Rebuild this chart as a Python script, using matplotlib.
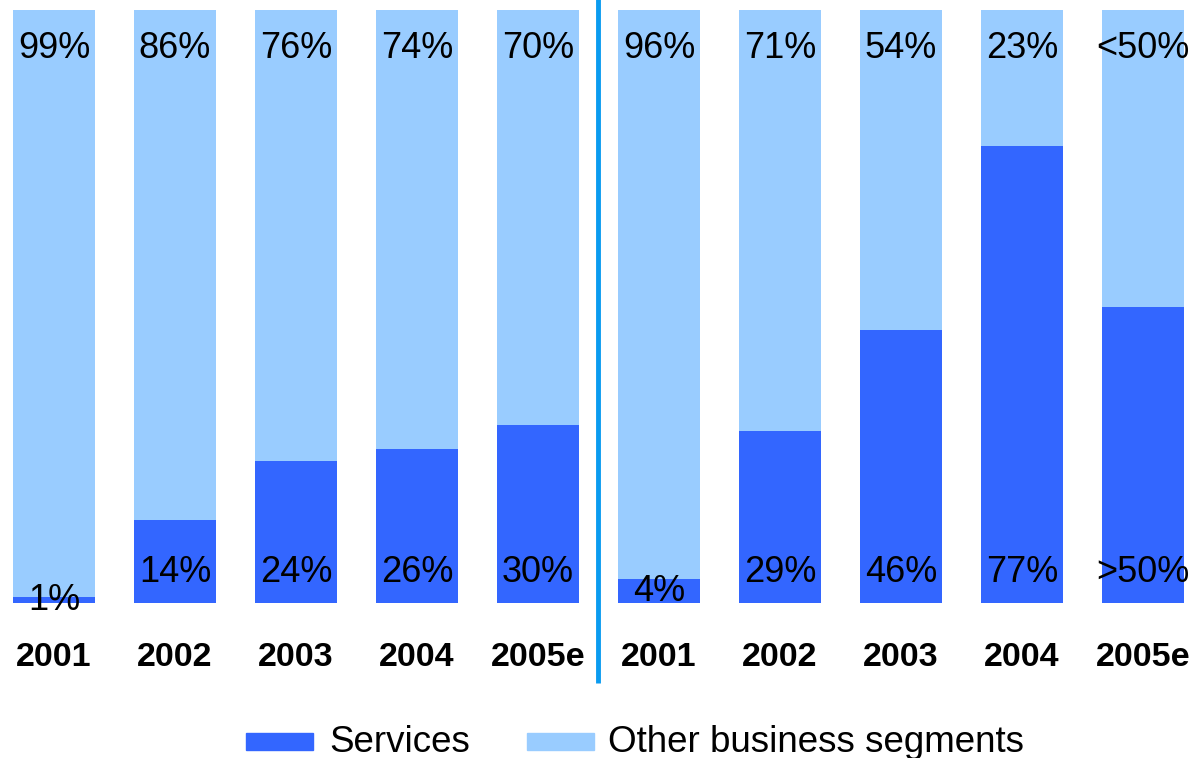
import matplotlib
matplotlib.use('Agg')
from matplotlib import pyplot as plt
from matplotlib.patches import Rectangle
import numpy as np

plt.rcParams['font.family'] = ['Liberation Sans', 'DejaVu Sans']

years = ['2001', '2002', '2003', '2004', '2005e',
         '2001', '2002', '2003', '2004', '2005e']
services = [1, 14, 24, 26, 30, 4, 29, 46, 77, 50]
services_labels = ['1%', '14%', '24%', '26%', '30%',
                   '4%', '29%', '46%', '77%', '>50%']
other_labels = ['99%', '86%', '76%', '74%', '70%',
                '96%', '71%', '54%', '23%', '<50%']
legend_names = ['Services', 'Other business segments']

dark = '#3366FF'
light = '#99CCFF'

W, H = 1198, 758
fig = plt.figure(figsize=(W / 100, H / 100), dpi=100)
ax = fig.add_axes([0, 0, 1, 1])

# pixel geometry -> data limits
x0_px, step_px = 54, 121
bot_px, top_px = 603, 10
unit = bot_px - top_px
ax.set_xlim(-x0_px / step_px, (W - x0_px) / step_px)
ax.set_ylim(-(H - bot_px) / unit, 1 + top_px / unit)
ax.axis('off')

x = np.arange(len(years))
s = np.array(services) / 100.0
ax.bar(x, s, width=0.67, color=dark, linewidth=0)
ax.bar(x, 1 - s, bottom=s, width=0.67, color=light, linewidth=0)

def py(p):
    return (bot_px - p) / unit

for i in range(len(years)):
    ax.text(x[i], py(48), other_labels[i], ha='center', va='center', fontsize=26)
    yb = min(s[i] / 2, py(573))
    ax.text(x[i], yb, services_labels[i], ha='center', va='center', fontsize=26)
    ax.text(x[i], py(658), years[i], ha='center', va='center', fontsize=24.5,
            fontweight='bold')

ax.plot([4.5, 4.5], [py(683), py(-5)], color='#0A9BF0', linewidth=3.5,
        solid_capstyle='butt', clip_on=False)

# legend
def fx(p):
    return p / W

def fy(p):
    return 1 - p / H

for (px, name, col, tx) in [(246, legend_names[0], dark, 329),
                             (527, legend_names[1], light, 608)]:
    fig.patches.append(Rectangle((fx(px), fy(750)), fx(67), 17 / H,
                                 transform=fig.transFigure, color=col))
    fig.text(fx(tx), fy(742), name, ha='left', va='center', fontsize=26.5)

fig.savefig('out.png', dpi=100)
